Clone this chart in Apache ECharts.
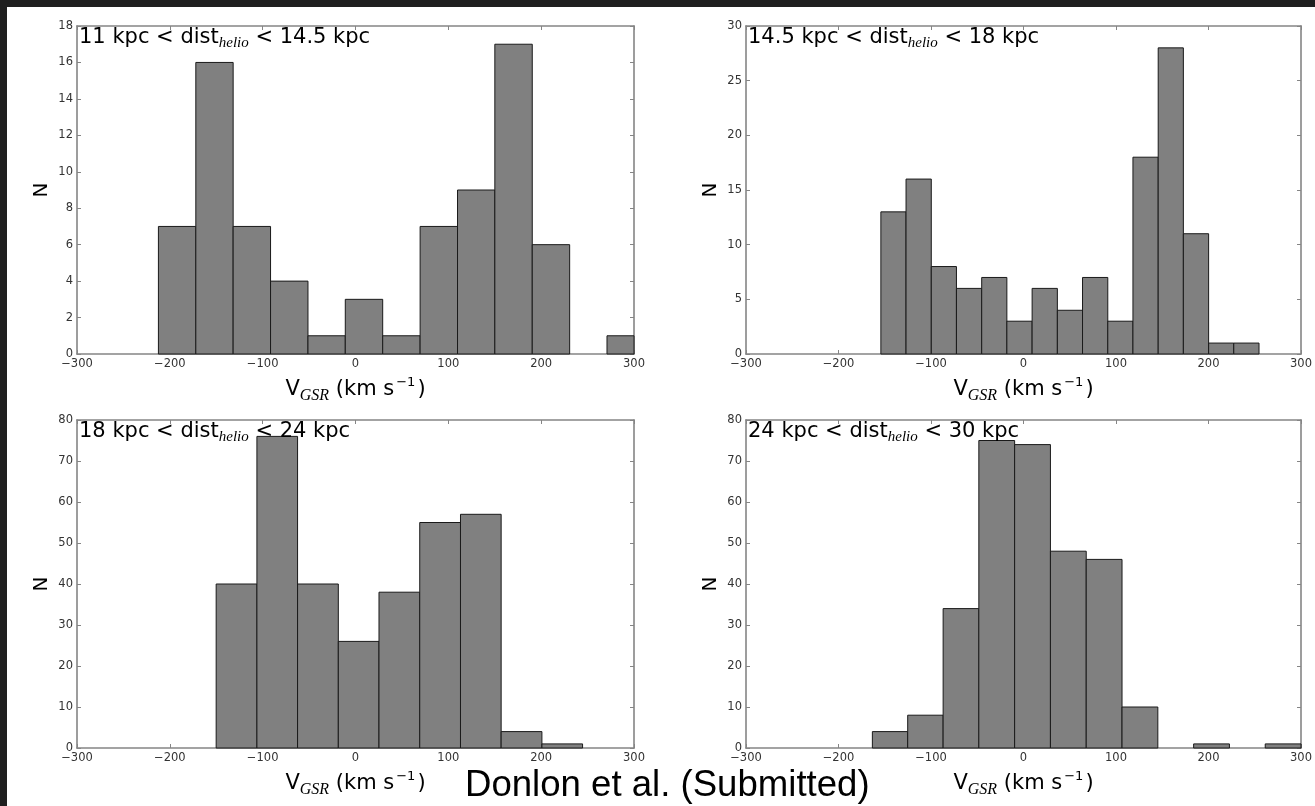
<!DOCTYPE html>
<html>
<head>
<meta charset="utf-8">
<script src="https://cdn.jsdelivr.net/npm/echarts@6/dist/echarts.min.js"></script>
<style>
  html, body { margin: 0; padding: 0; background: #1f1f1f; }
  #paper { position: absolute; left: 7px; top: 7px; right: 0; bottom: 0; background: #ffffff; }
  #chart { position: absolute; left: 0; top: 0; width: 1315px; height: 806px; }
</style>
</head>
<body>
<div id="paper"></div>
<div id="chart"></div>
<script>
// ---------------- DATA ----------------
const xTicks = [-300, -200, -100, 0, 100, 200, 300];
const yTicks1 = [0, 2, 4, 6, 8, 10, 12, 14, 16, 18];
const yTicks2 = [0, 5, 10, 15, 20, 25, 30];
const yTicks3 = [0, 10, 20, 30, 40, 50, 60, 70, 80];
const yTicks4 = [0, 10, 20, 30, 40, 50, 60, 70, 80];

// histogram bin edges (km/s) and counts
const edges1 = [-212.3, -172.0, -131.8, -91.5, -51.2, -11.0, 29.3, 69.6, 109.9, 150.1, 190.4, 230.7, 270.9, 311.2];
const counts1 = [7, 16, 7, 4, 1, 3, 1, 7, 9, 17, 6, 0, 1];

const edges2 = [-154.2, -127.0, -99.7, -72.5, -45.2, -18.0, 9.3, 36.6, 63.8, 91.1, 118.3, 145.6, 172.8, 200.1, 227.3, 254.6];
const counts2 = [13, 16, 8, 6, 7, 3, 6, 4, 7, 3, 18, 28, 11, 1, 1];

const edges3 = [-150.1, -106.2, -62.4, -18.5, 25.3, 69.2, 113.1, 156.9, 200.8, 244.6];
const counts3 = [40, 76, 40, 26, 38, 55, 57, 4, 1];

const edges4 = [-163.4, -125.2, -86.9, -48.3, -9.6, 29.1, 67.8, 106.5, 145.2, 183.9, 222.6, 261.3, 300.0];
const counts4 = [4, 8, 34, 75, 74, 48, 46, 10, 0, 1, 0, 1];

const distLow = ['11 kpc', '14.5 kpc', '18 kpc', '24 kpc'];
const distHigh = ['14.5 kpc', '18 kpc', '24 kpc', '30 kpc'];
const distSymbol = 'dist';
const distSub = 'helio';
const xTitleMain = 'V';
const xTitleSub = 'GSR';
const xTitleUnit = ' (km s';
const xTitleSup = '−1';
const yTitle = 'N';
const credit = 'Donlon et al. (Submitted)';

// ---------------- LAYOUT ----------------
const panels = [
  { edges: edges1, counts: counts1, yTicks: yTicks1, left: 77, top: 26, width: 557, height: 328 },
  { edges: edges2, counts: counts2, yTicks: yTicks2, left: 746, top: 26, width: 556, height: 328 },
  { edges: edges3, counts: counts3, yTicks: yTicks3, left: 77, top: 420, width: 557, height: 328 },
  { edges: edges4, counts: counts4, yTicks: yTicks4, left: 746, top: 420, width: 556, height: 328 }
];

const frameColor = '#858585';
const tickLabelStyle = { fontFamily: 'DejaVu Sans', fontSize: 11.5, color: '#333' };
const fmt = v => (v < 0 ? '−' + Math.abs(v) : String(v));

const grids = [], xAxes = [], yAxes = [], series = [], titles = [];

panels.forEach((p, g) => {
  grids.push({ left: p.left, top: p.top, width: p.width, height: p.height, containLabel: false });
  const xmin = xTicks[0], xmax = xTicks[xTicks.length - 1], xint = xTicks[1] - xTicks[0];
  const ymin = p.yTicks[0], ymax = p.yTicks[p.yTicks.length - 1], yint = p.yTicks[1] - p.yTicks[0];
  const line = { show: true, onZero: false, lineStyle: { color: frameColor, width: 1.6 } };
  const tick = { show: true, inside: true, length: 4, lineStyle: { color: frameColor, width: 1 } };
  xAxes.push({
    type: 'value', gridIndex: g, position: 'bottom', min: xmin, max: xmax, interval: xint,
    axisLine: line, axisTick: tick, splitLine: { show: false },
    axisLabel: Object.assign({ margin: 4, formatter: fmt }, tickLabelStyle),
    name: '{n|' + xTitleMain + '}{s|' + xTitleSub + '}{n|' + xTitleUnit + '}{p|' + xTitleSup + '}{n|)}',
    nameLocation: 'middle', nameGap: 22,
    nameTextStyle: {
      rich: {
        n: { fontFamily: 'DejaVu Sans', fontSize: 21, fontWeight: 'normal', color: '#000', verticalAlign: 'top', lineHeight: 22, padding: [3, 0, 0, 0] },
        s: { fontFamily: 'Liberation Serif', fontStyle: 'italic', fontSize: 16, color: '#000', verticalAlign: 'top', lineHeight: 16, padding: [12, 0, 0, 0] },
        p: { fontFamily: 'DejaVu Sans', fontSize: 13, color: '#000', verticalAlign: 'top', lineHeight: 13, padding: [0, 2, 0, 2] }
      }
    }
  });
  xAxes.push({
    type: 'value', gridIndex: g, position: 'top', min: xmin, max: xmax, interval: xint,
    axisLine: line, axisTick: tick, splitLine: { show: false }, axisLabel: { show: false }
  });
  yAxes.push({
    type: 'value', gridIndex: g, position: 'left', min: ymin, max: ymax, interval: yint,
    axisLine: line, axisTick: tick, splitLine: { show: false },
    axisLabel: Object.assign({ margin: 4, formatter: fmt }, tickLabelStyle),
    name: yTitle, nameLocation: 'middle', nameGap: 25,
    nameTextStyle: { fontFamily: 'DejaVu Sans', fontSize: 20, fontWeight: 'normal', color: '#000' }
  });
  yAxes.push({
    type: 'value', gridIndex: g, position: 'right', min: ymin, max: ymax, interval: yint,
    axisLine: line, axisTick: tick, splitLine: { show: false }, axisLabel: { show: false }
  });

  const data = [];
  for (let i = 0; i < p.counts.length; i++) data.push([p.edges[i], p.edges[i + 1], p.counts[i]]);
  series.push({
    type: 'custom', xAxisIndex: 2 * g, yAxisIndex: 2 * g, z: 2,
    encode: { x: [0, 1], y: 2 },
    data: data,
    renderItem: function (params, api) {
      const c = api.value(2);
      if (!c) return null;
      const a = api.coord([api.value(0), c]);
      const b = api.coord([api.value(1), 0]);
      const cs = params.coordSys;
      const x0 = Math.max(a[0], cs.x), x1 = Math.min(b[0], cs.x + cs.width);
      if (x1 <= x0) return null;
      return {
        type: 'rect',
        shape: { x: x0, y: a[1], width: x1 - x0, height: b[1] - a[1] },
        style: { fill: '#808080', stroke: '#1a1a1a', lineWidth: 1 }
      };
    }
  });

  titles.push({
    text: '{n|' + distLow[g] + ' < ' + distSymbol + '}{s|' + distSub + '}{n| < ' + distHigh[g] + '}',
    left: p.left + 2, top: p.top + 1, padding: 0, z: 10,
    textStyle: {
      fontWeight: 'normal',
      rich: {
        n: { fontFamily: 'DejaVu Sans', fontSize: 21, fontWeight: 'normal', color: '#000', verticalAlign: 'top', lineHeight: 21 },
        s: { fontFamily: 'Liberation Serif', fontStyle: 'italic', fontWeight: 'normal', fontSize: 15, color: '#000', verticalAlign: 'top', lineHeight: 15, padding: [9, 0, 0, 0] }
      }
    }
  });
});

const chart = echarts.init(document.getElementById('chart'), null, { renderer: 'canvas' });
chart.setOption({
  backgroundColor: 'transparent',
  animation: false,
  title: titles,
  grid: grids,
  xAxis: xAxes,
  yAxis: yAxes,
  series: series,
  graphic: [{
    type: 'text', left: 465, top: 767, z: 10,
    style: { text: credit, font: '36.6px "Liberation Sans", Arial, sans-serif', fill: '#000' }
  }]
});
</script>
</body>
</html>
